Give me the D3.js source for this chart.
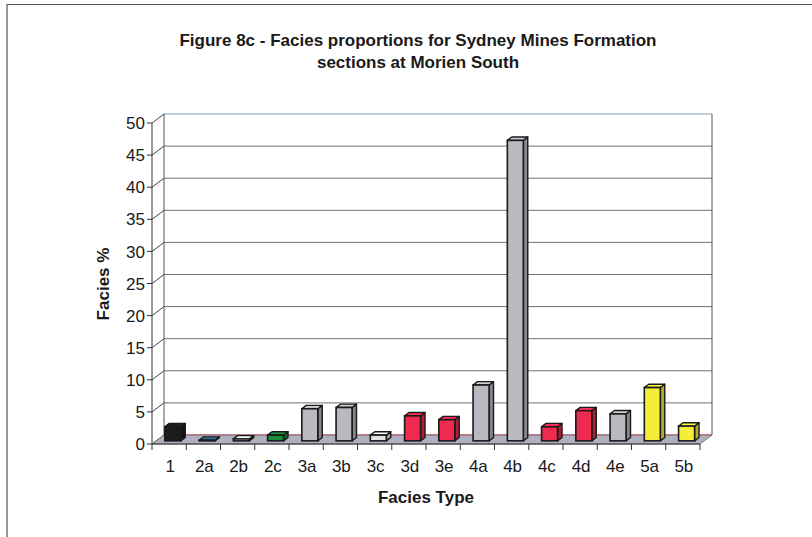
<!DOCTYPE html>
<html>
<head>
<meta charset="utf-8">
<script src="https://cdn.jsdelivr.net/npm/d3@7"></script>
<style>
  html, body { margin: 0; padding: 0; background: #fff; }
  svg { display: block; }
  text { font-family: "Liberation Sans", Arial, sans-serif; fill: #1a1a1a; }
</style>
</head>
<body>
<svg id="chart" width="812" height="537"></svg>
<script>
// Facies categories and their proportions (%)
const categories = ["1","2a","2b","2c","3a","3b","3c","3d","3e","4a","4b","4c","4d","4e","5a","5b"];
const values     = [2.2, 0.1, 0.3, 0.9, 5.0, 5.2, 0.9, 3.9, 3.3, 8.7, 46.8, 2.2, 4.7, 4.2, 8.3, 2.3];
const colors     = ["#1c1c1c","#2b6e8c","#e8e8e8","#1a8c3c","#b9b9c1","#b9b9c1","#e2e2e2","#ee2a4e","#ee2a4e",
                    "#b9b9c1","#b9b9c1","#ee2a4e","#ee2a4e","#b9b9c1","#f4ee3a","#f4ee3a"];
const yTicks     = [0,5,10,15,20,25,30,35,40,45,50];

const svg = d3.select("#chart");

// outer chart frame
svg.append("path")
  .attr("d", "M7,537 L7,4.5 L812,4.5")
  .attr("fill", "none").attr("stroke", "#555").attr("stroke-width", 1.2);

// title
const title = svg.append("text")
  .attr("text-anchor", "middle")
  .style("font-weight", "bold").style("font-size", "17px");
title.append("tspan").attr("x", 418).attr("y", 46).text("Figure 8c - Facies proportions for Sydney Mines Formation");
title.append("tspan").attr("x", 418).attr("y", 68).text("sections at Morien South");

// scales
const x = d3.scaleBand().domain(categories).range([152, 700]);
const y = d3.scaleLinear().domain([0, 50]).range([444, 123]);
const DX = 12, DY = -9;          // depth of the 3D box
const fF = 0.35, fB = 0.72;      // bar front/back depth fractions

// back wall gridlines
const g = svg.append("g");
g.selectAll("line.grid").data(yTicks).join("line")
  .attr("class", "grid")
  .attr("x1", x.range()[0] + DX).attr("x2", x.range()[1] + DX)
  .attr("y1", d => y(d) + DY).attr("y2", d => y(d) + DY)
  .attr("stroke", d => d === 50 ? "#7e9bb5" : "#707070")
  .attr("stroke-width", 1);

// wall edges
g.append("line").attr("x1", 152 + DX).attr("x2", 152 + DX)
  .attr("y1", y(50) + DY).attr("y2", y(0) + DY).attr("stroke", "#555");
g.append("line").attr("x1", 700 + DX).attr("x2", 700 + DX)
  .attr("y1", y(50) + DY).attr("y2", y(0) + DY).attr("stroke", "#555");

// side wall diagonals at each tick
g.selectAll("line.diag").data(yTicks).join("line")
  .attr("class", "diag")
  .attr("x1", 152).attr("y1", d => y(d))
  .attr("x2", 152 + DX).attr("y2", d => y(d) + DY)
  .attr("stroke", "#444");

// floor
g.append("polygon")
  .attr("points", [[152, y(0)], [700, y(0)], [700 + DX, y(0) + DY], [152 + DX, y(0) + DY]].join(" "))
  .attr("fill", "#aeb2c0").attr("stroke", "#666").attr("stroke-width", 0.8);
g.append("line")
  .attr("x1", 152 + DX).attr("x2", 700 + DX)
  .attr("y1", y(0) + DY).attr("y2", y(0) + DY)
  .attr("stroke", "#d0607a").attr("stroke-width", 0.8);

// y axis
const ya = svg.append("g");
ya.append("line").attr("x1", 152).attr("x2", 152).attr("y1", y(0)).attr("y2", y(50)).attr("stroke", "#333");
ya.selectAll("line.tk").data(yTicks).join("line").attr("class", "tk")
  .attr("x1", 147).attr("x2", 152).attr("y1", d => y(d)).attr("y2", d => y(d)).attr("stroke", "#333");
ya.selectAll("text").data(yTicks).join("text")
  .attr("x", 145).attr("y", d => y(d)).attr("dy", "0.36em")
  .attr("text-anchor", "end").style("font-size", "17px")
  .text(d => d);

// bars
const bw = 16;
const shade = (c, k) => d3.color(c).darker(k).formatHex();
const bars = svg.append("g").selectAll("g").data(categories).join("g");
bars.each(function(cat, i) {
  const v = values[i];
  const c = colors[i];
  const sel = d3.select(this);
  const x0 = x(cat) + x.bandwidth() / 2 - bw / 2 + DX * fF - 0.5;
  const ox = DX * fF, oy = DY * fF;
  const bx = DX * (fB - fF), by = DY * (fB - fF);
  const yb = y(0) + oy, yt = y(v) + oy;
  // side face
  sel.append("polygon")
    .attr("points", [[x0 + bw, yb], [x0 + bw + bx, yb + by], [x0 + bw + bx, yt + by], [x0 + bw, yt]].join(" "))
    .attr("fill", shade(c, 0.9)).attr("stroke", "#1a1a1a").attr("stroke-width", 1.4).attr("stroke-linejoin", "round");
  // top face
  sel.append("polygon")
    .attr("points", [[x0, yt], [x0 + bw, yt], [x0 + bw + bx, yt + by], [x0 + bx, yt + by]].join(" "))
    .attr("fill", d3.color(c).brighter(0.3).formatHex()).attr("stroke", "#1a1a1a").attr("stroke-width", 1.4).attr("stroke-linejoin", "round");
  // front face
  sel.append("rect")
    .attr("x", x0).attr("y", yt).attr("width", bw).attr("height", yb - yt)
    .attr("fill", c).attr("stroke", "#1a1a1a").attr("stroke-width", 1.6);
});

// x axis front edge with ticks at category boundaries
const xa = svg.append("g");
xa.append("line").attr("x1", 152).attr("x2", 700).attr("y1", y(0)).attr("y2", y(0)).attr("stroke", "#333");
const bounds = categories.map(c => x(c)).concat([x.range()[1]]);
xa.selectAll("line.tk").data(bounds).join("line").attr("class", "tk")
  .attr("x1", d => d).attr("x2", d => d).attr("y1", y(0)).attr("y2", y(0) + 6).attr("stroke", "#333");
xa.selectAll("text").data(categories).join("text")
  .attr("x", d => x(d) + x.bandwidth() / 2 + 1).attr("y", 472)
  .attr("text-anchor", "middle").style("font-size", "17px")
  .text(d => d);

// axis titles
svg.append("text").attr("x", 426).attr("y", 503).attr("text-anchor", "middle")
  .style("font-weight", "bold").style("font-size", "17px").text("Facies Type");
svg.append("text").attr("transform", "translate(109,284) rotate(-90)").attr("text-anchor", "middle")
  .style("font-weight", "bold").style("font-size", "17px").text("Facies %");
</script>
</body>
</html>
